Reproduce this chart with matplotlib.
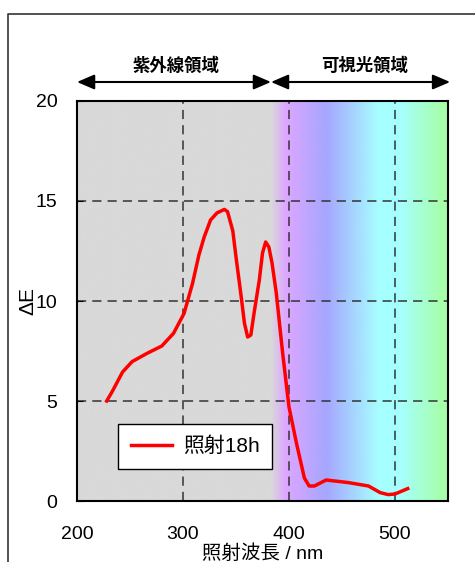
import matplotlib
matplotlib.use("Agg")
import matplotlib.pyplot as plt
import numpy as np
from matplotlib.lines import Line2D

plt.rcParams['font.family'] = ['Liberation Sans', 'Noto Sans CJK JP', 'DejaVu Sans']

# data
wavelength = [228, 233, 238, 243, 252, 266, 280, 291, 301, 309, 315, 320, 326, 332,
              339, 342, 347, 350, 354.5, 358, 361, 364, 367, 372, 375, 378, 381, 384,
              388, 394, 400, 407, 414.5, 419, 424, 435, 456, 475, 486, 493.5, 500, 512]
delta_e = [5.0, 5.45, 5.95, 6.45, 6.97, 7.38, 7.75, 8.38, 9.38, 10.88, 12.3, 13.2, 14.05, 14.4,
           14.58, 14.47, 13.5, 12.2, 10.38, 8.88, 8.2, 8.3, 9.38, 11.05, 12.4, 12.95, 12.7, 11.9,
           10.4, 7.4, 4.7, 2.9, 1.15, 0.75, 0.75, 1.05, 0.92, 0.75, 0.42, 0.32, 0.35, 0.62]
legend_label = "照射18h"
x_ticks = [200, 300, 400, 500]
y_ticks = [0, 5, 10, 15, 20]
uv_label = "紫外線領域"
vis_label = "可視光領域"
border_nm = 383

# background colour stops (nm, rgb)
stop_nm = [200, 383, 397, 435, 485, 505, 545, 550]
stop_rgb = [(217, 217, 217), (217, 217, 217), (221, 166, 255), (166, 166, 255),
            (166, 255, 255), (166, 255, 255), (166, 255, 168), (166, 255, 168)]

fig = plt.figure(figsize=(4.75, 5.62), dpi=100)
ax = fig.add_axes([77 / 475, 61 / 562, 371 / 475, 400 / 562])

# gradient background
xs = np.linspace(200, 550, 700)
rgb = np.array(stop_rgb) / 255.0
img = np.stack([np.interp(xs, stop_nm, rgb[:, c]) for c in range(3)], axis=-1)
ax.imshow(img[np.newaxis, :, :], extent=[200, 550, 0, 20], aspect='auto', zorder=0)

ax.plot(wavelength, delta_e, color='red', lw=2.5, label=legend_label, zorder=3)

ax.set_xlim(200, 550)
ax.set_ylim(0, 20)
ax.set_xticks(x_ticks)
ax.set_yticks(y_ticks)
ax.tick_params(axis='x', length=0, pad=18, labelsize=14)
ax.tick_params(axis='y', direction='in', length=4, pad=14, labelsize=14)
ax.grid(True, color='#333333', linestyle=(0, (6, 4)), lw=1.1, zorder=1)
ax.set_axisbelow(False)
for s in ax.spines.values():
    s.set_linewidth(1.5)
    s.set_zorder(4)

ax.set_xlabel("照射波長 / nm", fontsize=14, labelpad=1)
ax.set_ylabel("ΔE", fontsize=15, labelpad=-1)

leg = ax.legend(loc='upper left', bbox_to_anchor=(0.083, 0.218), fontsize=15,
                frameon=True, fancybox=False, edgecolor='black', framealpha=1,
                handlelength=2.0, borderpad=0.6, handletextpad=0.5)
leg.get_frame().set_linewidth(1.0)

# region arrows and labels
arrow = dict(arrowstyle='<|-|>,head_length=0.7,head_width=0.3', color='black',
             lw=1.5, mutation_scale=15, shrinkA=0, shrinkB=0)
ax.annotate('', xy=(200, 20.95), xytext=(border_nm, 20.95), arrowprops=arrow,
            annotation_clip=False)
ax.annotate('', xy=(border_nm, 20.95), xytext=(552, 20.95), arrowprops=arrow,
            annotation_clip=False)
ax.text(293, 21.8, uv_label, ha='center', va='center', fontsize=12.5,
        fontweight='bold', clip_on=False)
ax.text(471, 21.8, vis_label, ha='center', va='center', fontsize=12.5,
        fontweight='bold', clip_on=False)

# outer frame
fig.add_artist(Line2D([8 / 475, 8 / 475, 1.0], [0, 1 - 14 / 562, 1 - 14 / 562],
                      transform=fig.transFigure, color='#333333', lw=1.2))

fig.savefig('out.png', dpi=100)
